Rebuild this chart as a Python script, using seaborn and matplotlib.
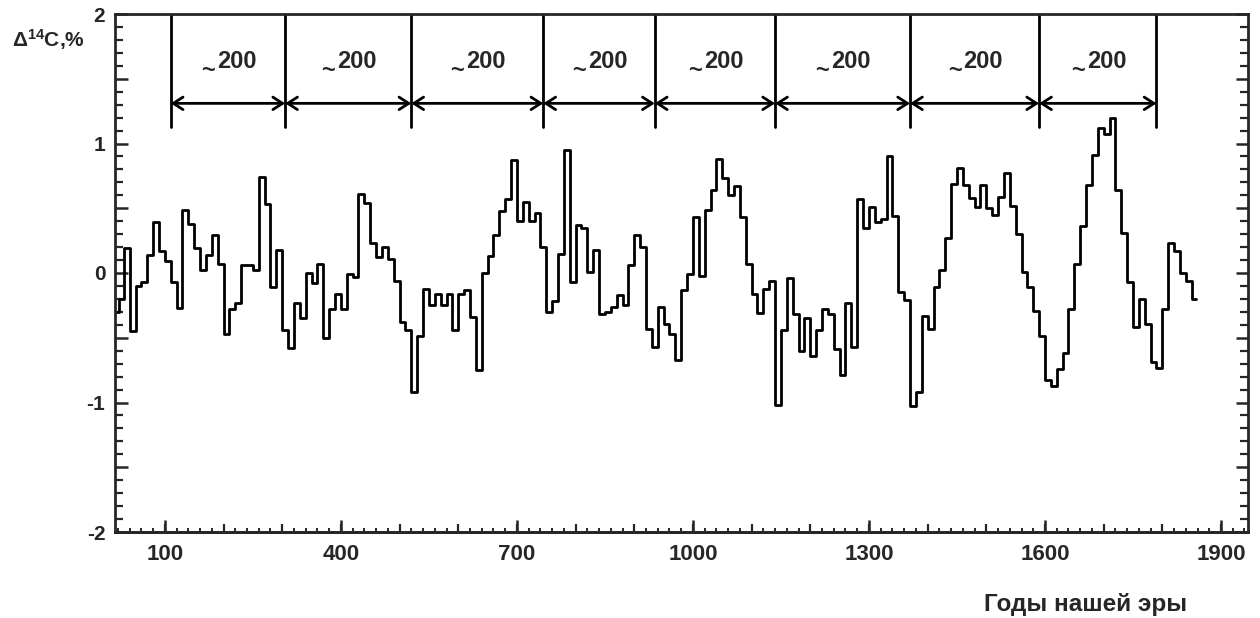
import matplotlib
matplotlib.use("Agg")
import matplotlib.pyplot as plt
from matplotlib.ticker import MultipleLocator, FuncFormatter, NullFormatter
import seaborn as sns

# ---- data ----
years = [15, 22, 30, 40, 50, 60, 70, 80, 90, 100, 110, 120, 130, 140, 150, 160, 170, 180, 190,
         200, 210, 220, 230, 240, 250, 260, 270, 280, 290, 300, 310, 320, 330, 340, 350, 360,
         370, 380, 390, 400, 410, 420, 430, 440, 450, 460, 470, 480, 490, 500, 510, 520, 530,
         540, 550, 560, 570, 580, 590, 600, 610, 620, 630, 640, 650, 660, 670, 680, 690, 700,
         710, 720, 730, 740, 750, 760, 770, 780, 790, 800, 810, 820, 830, 840, 850, 860, 870,
         880, 890, 900, 910, 920, 930, 940, 950, 960, 970, 980, 990, 1000, 1010, 1020, 1030,
         1040, 1050, 1060, 1070, 1080, 1090, 1100, 1110, 1120, 1130, 1140, 1150, 1160, 1170,
         1180, 1190, 1200, 1210, 1220, 1230, 1240, 1250, 1260, 1270, 1280, 1290, 1300, 1310,
         1320, 1330, 1340, 1350, 1360, 1370, 1380, 1390, 1400, 1410, 1420, 1430, 1440, 1450,
         1460, 1470, 1480, 1490, 1500, 1510, 1520, 1530, 1540, 1550, 1560, 1570, 1580, 1590,
         1600, 1610, 1620, 1630, 1640, 1650, 1660, 1670, 1680, 1690, 1700, 1710, 1720, 1730,
         1740, 1750, 1760, 1770, 1780, 1790, 1800, 1810, 1820, 1830, 1840, 1850]
delta14c = [-0.30, -0.20, 0.19, -0.45, -0.10, -0.07, 0.14, 0.39, 0.17, 0.09, -0.07, -0.27,
            0.49, 0.38, 0.19, 0.02, 0.14, 0.29, 0.07, -0.47, -0.28, -0.23, 0.06, 0.06, 0.02,
            0.74, 0.53, -0.11, 0.18, -0.44, -0.58, -0.23, -0.35, 0.00, -0.08, 0.07, -0.50,
            -0.28, -0.16, -0.28, -0.01, -0.03, 0.61, 0.54, 0.23, 0.12, 0.20, 0.11, -0.06,
            -0.38, -0.44, -0.92, -0.49, -0.12, -0.25, -0.16, -0.25, -0.16, -0.44, -0.16,
            -0.13, -0.34, -0.75, 0.00, 0.13, 0.29, 0.48, 0.57, 0.87, 0.40, 0.55, 0.40, 0.46,
            0.20, -0.30, -0.22, 0.15, 0.95, -0.07, 0.37, 0.35, 0.01, 0.18, -0.32, -0.30,
            -0.26, -0.17, -0.25, 0.06, 0.29, 0.20, -0.43, -0.57, -0.26, -0.39, -0.47, -0.67,
            -0.13, -0.01, 0.43, -0.02, 0.49, 0.64, 0.88, 0.73, 0.60, 0.67, 0.43, 0.07, -0.16,
            -0.31, -0.12, -0.06, -1.02, -0.44, -0.04, -0.32, -0.60, -0.35, -0.64, -0.44,
            -0.28, -0.32, -0.59, -0.79, -0.23, -0.57, 0.57, 0.35, 0.51, 0.39, 0.42, 0.90,
            0.44, -0.15, -0.21, -1.03, -0.92, -0.33, -0.43, -0.11, 0.02, 0.27, 0.69, 0.81,
            0.68, 0.58, 0.51, 0.68, 0.50, 0.45, 0.59, 0.77, 0.52, 0.30, 0.01, -0.11, -0.29,
            -0.49, -0.83, -0.87, -0.74, -0.62, -0.28, 0.07, 0.36, 0.68, 0.91, 1.12, 1.07,
            1.20, 0.64, 0.31, -0.07, -0.42, -0.20, -0.39, -0.69, -0.73, -0.28, 0.23, 0.17,
            0.00, -0.06, -0.20]
series_end = 1857

cycle_bounds = [110, 305, 520, 745, 935, 1140, 1370, 1590, 1790]
cycle_number = "200"

x_tick_labels = [100, 400, 700, 1000, 1300, 1600, 1900]
y_tick_labels = [-2, -1, 0, 1, 2]
x_label = "Годы нашей эры"

# ---- style ----
sns.set_style("ticks")
plt.rcParams["font.family"] = ["Liberation Sans", "DejaVu Sans"]
plt.rcParams["font.weight"] = "bold"
plt.rcParams["mathtext.fontset"] = "custom"
plt.rcParams["mathtext.rm"] = "Liberation Sans:bold"
plt.rcParams["mathtext.bf"] = "Liberation Sans:bold"
plt.rcParams["mathtext.default"] = "bf"

fig = plt.figure(figsize=(12.6, 6.18), dpi=100)
ax = fig.add_axes([115 / 1260, 1 - 532 / 618, (1248 - 115) / 1260, (532 - 14) / 618])

xs = list(years) + [series_end]
ys = list(delta14c) + [delta14c[-1]]
sns.lineplot(x=xs, y=ys, drawstyle="steps-post", estimator=None, sort=False,
             color="black", linewidth=2.0, ax=ax)

ax.set_xlim(15, 1946)
ax.set_ylim(-2, 2)

for s in ax.spines.values():
    s.set_linewidth(2.0)
    s.set_visible(True)

# x ticks: medium every 100, small every 20 (main axis), long labelled ones (secondary)
ax.xaxis.set_major_locator(MultipleLocator(100))
ax.xaxis.set_minor_locator(MultipleLocator(20))
ax.xaxis.set_major_formatter(NullFormatter())
ax.tick_params(axis="x", which="both", direction="in", bottom=True, top=False)
ax.tick_params(axis="x", which="major", length=5.5, width=1.6)
ax.tick_params(axis="x", which="minor", length=3.2, width=1.4)

sec = ax.secondary_xaxis("bottom")
sec.set_xticks(x_tick_labels)
sec.set_xticklabels([str(v) for v in x_tick_labels])
sec.tick_params(axis="x", direction="in", length=9, width=1.8, labelsize=16, pad=9)
sec.spines["bottom"].set_linewidth(2.0)
for lab in sec.get_xticklabels():
    lab.set_fontweight("bold")

# y ticks
ax.yaxis.set_major_locator(MultipleLocator(0.5))
ax.yaxis.set_minor_locator(MultipleLocator(0.1))
ax.yaxis.set_major_formatter(FuncFormatter(
    lambda v, p: f"{int(round(v))}" if abs(v - round(v)) < 1e-6 else ""))
ax.tick_params(axis="y", which="both", direction="in", left=True, right=True,
               labelsize=15, pad=7)
ax.tick_params(axis="y", which="major", length=9, width=1.8)
ax.tick_params(axis="y", which="minor", length=5.5, width=1.6)
for lab in ax.get_yticklabels():
    lab.set_fontweight("bold")

ax.set_xlabel("")
ax.set_ylabel("")

# ~200 year cycle brackets
for xb in cycle_bounds:
    ax.plot([xb, xb], [2, 1.13], color="black", lw=2)
for a, b in zip(cycle_bounds[:-1], cycle_bounds[1:]):
    ax.annotate("", xy=(b, 1.31), xytext=(a, 1.31),
                arrowprops=dict(arrowstyle="<->,head_length=0.7,head_width=0.45",
                                lw=2, color="black", shrinkA=0, shrinkB=0))
    mid = (a + b) / 2
    ax.annotate(cycle_number, xy=(mid, 1.63), xytext=(-8, 0), textcoords="offset points",
                ha="left", va="center", fontsize=17, fontweight="bold")
    ax.annotate("~", xy=(mid, 1.63), xytext=(-9.5, -6), textcoords="offset points",
                ha="right", va="center", fontsize=17, fontweight="bold")

fig.text(12 / 1260, 1 - 40 / 618, r"$Δ^{14}$C,%", ha="left", va="center",
         fontsize=15, fontweight="bold")
fig.text(1086 / 1260, 1 - 605 / 618, x_label, ha="center", va="center",
         fontsize=17.5, fontweight="bold")

fig.savefig("out.png", dpi=100)
